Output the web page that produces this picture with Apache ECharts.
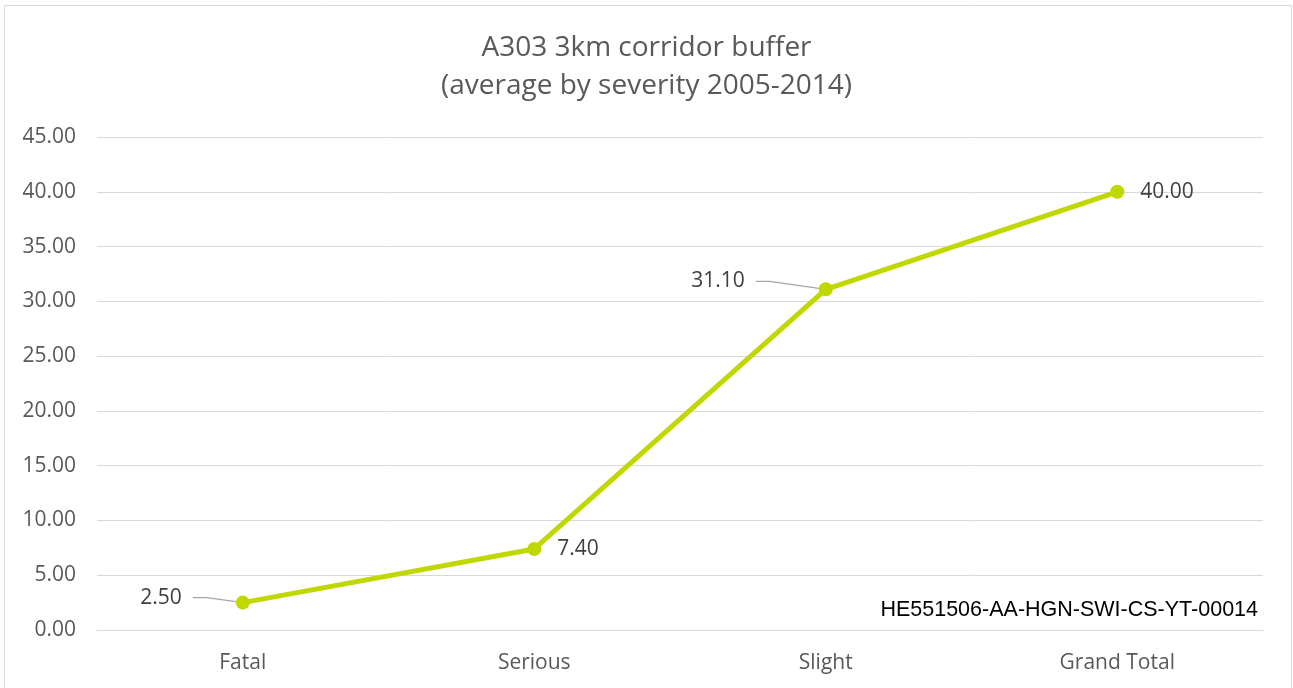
<!DOCTYPE html>
<html>
<head>
<meta charset="utf-8">
<script src="https://cdn.jsdelivr.net/npm/echarts@6/dist/echarts.min.js"></script>
<style>html,body{margin:0;padding:0;background:#fff;}#c{width:1293px;height:688px;}</style>
</head>
<body>
<div id="c"></div>
<script>
const categories = ["Fatal", "Serious", "Slight", "Grand Total"];
const values = [2.50, 7.40, 31.10, 40.00];
const yTicks = [0, 5, 10, 15, 20, 25, 30, 35, 40, 45];
const titleLines = ["A303 3km corridor buffer", "(average by severity 2005-2014)"];
const docRef = "HE551506-AA-HGN-SWI-CS-YT-00014";

const FONT = "'Open Sans', sans-serif";
const labelSides = ["left", "right", "left", "right"];
const labelDistances = [43, 16, 63, 16];
const labelShiftY = [-5, 0, -8, 0];

const seriesData = values.map((v, i) => {
  const left = labelSides[i] === 'left';
  return {
    value: v,
    label: left
      ? {position: 'left', distance: labelDistances[i]}
      : {position: 'right', distance: labelDistances[i]},
    labelLine: {show: left}
  };
});

const chart = echarts.init(document.getElementById('c'), null, {renderer: 'canvas'});
chart.setOption({
  animation: false,
  backgroundColor: '#fff',
  graphic: [{
    type: 'rect', shape: {x: 4.5, y: 5.5, width: 1287, height: 690},
    style: {fill: 'none', stroke: '#D9D9D9', lineWidth: 1}, silent: true
  }],
  title: [{
    text: titleLines.join('\n'),
    left: 'center', top: 24,
    textStyle: {fontFamily: FONT, fontSize: 28, fontWeight: 'normal', color: '#595959', lineHeight: 38}
  }, {
    text: docRef,
    right: 30, top: 594,
    textStyle: {fontFamily: "'Liberation Sans', Arial, sans-serif", fontSize: 21.5, fontWeight: 'normal', color: '#000'}
  }],
  grid: {left: 97, right: 30, top: 137, bottom: 58},
  xAxis: {
    type: 'category', data: categories, boundaryGap: true,
    axisLine: {show: true, lineStyle: {color: '#D9D9D9', width: 1}},
    axisTick: {show: false},
    axisLabel: {fontFamily: FONT, fontSize: 21, color: '#595959', margin: 23}
  },
  yAxis: {
    type: 'value', min: yTicks[0], max: yTicks[yTicks.length - 1], interval: yTicks[1] - yTicks[0],
    axisLine: {show: false}, axisTick: {show: false},
    splitLine: {lineStyle: {color: '#D9D9D9', width: 1}},
    axisLabel: {fontFamily: FONT, fontSize: 21, color: '#595959', margin: 21, formatter: v => v.toFixed(2)}
  },
  series: [{
    type: 'line', data: seriesData,
    symbol: 'circle', symbolSize: 14,
    lineStyle: {color: '#C0D800', width: 5},
    itemStyle: {color: '#C0D800'},
    label: {
      show: true, fontFamily: FONT, fontSize: 21, color: '#404040',
      formatter: p => p.value.toFixed(2) + (labelSides[p.dataIndex] === 'left' ? '\u00a0\u00a0' : '')
    },
    labelLine: {lineStyle: {color: '#A6A6A6', width: 1.2}, length2: 14},
    labelLayout: function (p) {
      return {dy: labelShiftY[p.dataIndex]};
    }
  }]
});
</script>
</body>
</html>
